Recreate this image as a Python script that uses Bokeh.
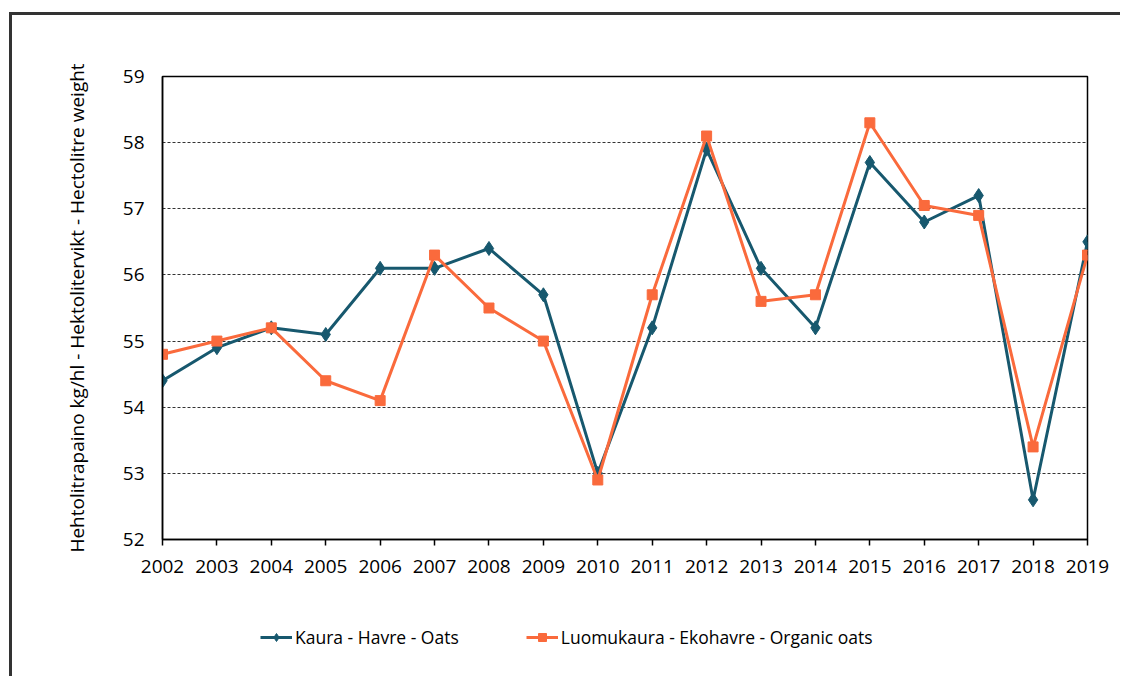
from bokeh.plotting import figure
from bokeh.layouts import column
from bokeh.models import Range1d, FixedTicker, Legend, LegendItem, ColumnDataSource
from bokeh.embed import file_html
from bokeh.resources import INLINE

years = [2002, 2003, 2004, 2005, 2006, 2007, 2008, 2009, 2010,
         2011, 2012, 2013, 2014, 2015, 2016, 2017, 2018, 2019]
oats = [54.4, 54.9, 55.2, 55.1, 56.1, 56.1, 56.4, 55.7, 53.0,
        55.2, 57.9, 56.1, 55.2, 57.7, 56.8, 57.2, 52.6, 56.5]
organic_oats = [54.8, 55.0, 55.2, 54.4, 54.1, 56.3, 55.5, 55.0, 52.9,
                55.7, 58.1, 55.6, 55.7, 58.3, 57.05, 56.9, 53.4, 56.3]
y_ticks = [52, 53, 54, 55, 56, 57, 58, 59]
grid_ticks = [53, 54, 55, 56, 57, 58]
label_oats = "Kaura - Havre - Oats"
label_org = "Luomukaura - Ekohavre - Organic oats"
y_label = "Hehtolitrapaino kg/hl - Hektolitervikt - Hectolitre weight"

DARK = "#17586E"
ORANGE = "#FA6A3C"
FONT = "Open Sans"

W, H_MAIN, H_LEG = 1108, 580, 81
p = figure(width=W, height=H_MAIN, output_backend="svg", toolbar_location=None,
           x_range=Range1d(2002, 2019), y_range=Range1d(52, 59),
           min_border_left=150, min_border_right=33, min_border_top=61,
           min_border_bottom=56)

p.outline_line_color = "black"
p.outline_line_width = 1.5
p.background_fill_color = "white"
p.border_fill_color = "white"

p.xgrid.visible = False
p.ygrid.ticker = FixedTicker(ticks=grid_ticks)
p.ygrid.grid_line_color = "#333333"
p.ygrid.grid_line_dash = "3 2"
p.ygrid.grid_line_width = 1

p.xaxis.ticker = FixedTicker(ticks=years)
p.yaxis.ticker = FixedTicker(ticks=y_ticks)
for ax in (p.xaxis, p.yaxis):
    ax.axis_line_color = "black"
    ax.axis_line_width = 1.5
    ax.minor_tick_line_color = None
    ax.major_label_text_font = FONT
    ax.major_label_text_font_size = "19px"
    ax.major_label_text_color = "black"
p.xaxis.major_tick_out = 6
p.xaxis.major_tick_in = 0
p.xaxis.major_tick_line_color = "black"
p.xaxis.major_tick_line_width = 1.5
p.xaxis.major_label_standoff = 14
p.yaxis.major_tick_out = 0
p.yaxis.major_tick_in = 0
p.yaxis.major_label_standoff = 18
p.yaxis.axis_label = y_label
p.yaxis.axis_label_text_font = FONT
p.yaxis.axis_label_text_font_size = "19px"
p.yaxis.axis_label_text_font_style = "normal"
p.yaxis.axis_label_text_color = "black"
p.yaxis.axis_label_standoff = 30

src = ColumnDataSource(dict(x=years, a=oats, b=organic_oats))
p.line("x", "a", source=src, line_color=DARK, line_width=3)
p.scatter("x", "a", source=src, marker="diamond", size=14,
          fill_color=DARK, line_color=DARK)
p.line("x", "b", source=src, line_color=ORANGE, line_width=3)
p.scatter("x", "b", source=src, marker="square", size=10,
          fill_color=ORANGE, line_color=ORANGE)

# legend holder figure: same glyphs, data lies outside its visible range
lf = figure(width=W, height=H_LEG, output_backend="svg", toolbar_location=None,
            x_range=Range1d(0, 1), y_range=Range1d(0, 1),
            min_border=0, min_border_left=0, min_border_right=0,
            min_border_top=0, min_border_bottom=0)
lf.axis.visible = False
lf.grid.visible = False
lf.outline_line_color = None
lf.background_fill_color = "white"
lf.border_fill_color = "white"
e1 = lf.line("x", "a", source=src, line_color=DARK, line_width=3)
e2 = lf.scatter("x", "a", source=src, marker="diamond", size=14,
                fill_color=DARK, line_color=DARK)
e3 = lf.line("x", "b", source=src, line_color=ORANGE, line_width=3)
e4 = lf.scatter("x", "b", source=src, marker="square", size=10,
                fill_color=ORANGE, line_color=ORANGE)

legend = Legend(items=[LegendItem(label=label_oats, renderers=[e1, e2]),
                       LegendItem(label=label_org, renderers=[e3, e4])],
                location=(98, 27), orientation="horizontal",
                padding=0, margin=0, spacing=67, label_standoff=3,
                glyph_width=32, glyph_height=20,
                border_line_alpha=0, background_fill_alpha=0,
                label_text_font=FONT, label_text_font_size="17.5px",
                label_text_color="black")
lf.add_layout(legend, "center")

layout = column(p, lf, spacing=0)
layout.styles = {"border-top": "3px solid #333333", "border-left": "3px solid #333333",
                 "margin-top": "12px", "margin-left": "9px"}

open("out.html", "w").write(file_html(layout, INLINE))
